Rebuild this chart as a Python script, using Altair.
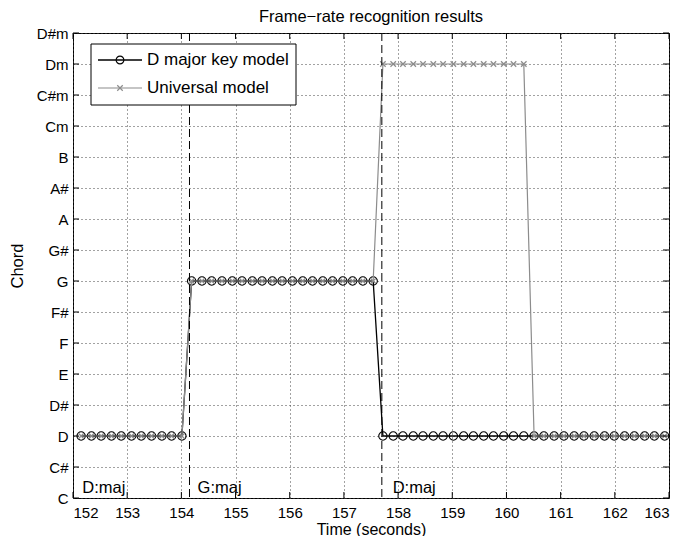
import altair as alt
import pandas as pd

# ---------------- data ----------------
times = [152.15, 152.34, 152.52, 152.71, 152.89, 153.08, 153.26, 153.45, 153.64, 153.82,
         154.01, 154.19, 154.38, 154.56, 154.75, 154.94, 155.12, 155.31, 155.49, 155.68,
         155.86, 156.05, 156.24, 156.42, 156.61, 156.79, 156.98, 157.16, 157.35, 157.54,
         157.72, 157.91, 158.09, 158.28, 158.46, 158.65, 158.83, 159.02, 159.21, 159.39,
         159.58, 159.76, 159.95, 160.13, 160.32, 160.51, 160.69, 160.88, 161.06, 161.25,
         161.43, 161.62, 161.81, 161.99, 162.18, 162.36, 162.55, 162.73, 162.92]

major_chord = [2, 2, 2, 2, 2, 2, 2, 2, 2, 2,
               2, 7, 7, 7, 7, 7, 7, 7, 7, 7,
               7, 7, 7, 7, 7, 7, 7, 7, 7, 7,
               2, 2, 2, 2, 2, 2, 2, 2, 2, 2,
               2, 2, 2, 2, 2, 2, 2, 2, 2, 2,
               2, 2, 2, 2, 2, 2, 2, 2, 2]

univ_chord = [2, 2, 2, 2, 2, 2, 2, 2, 2, 2,
              2, 7, 7, 7, 7, 7, 7, 7, 7, 7,
              7, 7, 7, 7, 7, 7, 7, 7, 7, 7,
              14, 14, 14, 14, 14, 14, 14, 14, 14, 14,
              14, 14, 14, 14, 14, 2, 2, 2, 2, 2,
              2, 2, 2, 2, 2, 2, 2, 2, 2]

chord_labels = ["C", "C#", "D", "D#", "E", "F", "F#", "G", "G#", "A", "A#", "B",
                "Cm", "C#m", "Dm", "D#m"]
x_ticks = [152, 153, 154, 155, 156, 157, 158, 159, 160, 161, 162, 163]
y_ticks = [0, 1, 2, 3, 4, 5, 6, 7, 8, 9, 10, 11, 12, 13, 14, 15]

boundary_times = [154.15, 157.70]
seg_label_times = [152.17, 154.30, 157.90]
seg_labels = ["D:maj", "G:maj", "D:maj"]

legend_names = ["D major key model", "Universal model"]
title_text = "Frame\u2212rate recognition results"

# ---------------- chart ----------------
W, H = 596, 465
FONT = "Liberation Sans"
GRAY = "#8c8c8c"
XPATH = "M-1,-1L1,1M1,-1L-1,1"

xs = alt.Scale(domain=[152, 163], nice=False, zero=False)
ys = alt.Scale(domain=[0, 15], nice=False, zero=False)

label_expr = "[" + ",".join("'%s'" % c for c in chord_labels) + "][datum.value]"

df_major = pd.DataFrame({"t": times, "c": major_chord})
df_univ = pd.DataFrame({"t": times, "c": univ_chord})
df_xt = pd.DataFrame({"t": x_ticks})
df_yt = pd.DataFrame({"c": y_ticks})
df_b = pd.DataFrame({"t": boundary_times})
df_s = pd.DataFrame({"t": seg_label_times, "lab": seg_labels})
one = pd.DataFrame({"a": [0]})

x_axis = alt.Axis(values=x_ticks, tickCount=len(x_ticks), grid=True, gridDash=[1, 3],
                  gridColor="#444444", gridWidth=1, ticks=False, domain=False,
                  labelPadding=7, labelOverlap=False, labelFontSize=15,
                  title="Time (seconds)", titleBaseline="alphabetic", titleY=36,
                  titleFontSize=16, format="d")
y_axis = alt.Axis(values=y_ticks, tickCount=len(y_ticks), grid=True, gridDash=[1, 3],
                  gridColor="#444444", gridWidth=1, ticks=False, domain=False,
                  labelPadding=5, labelOverlap=False, labelFontSize=15,
                  labelExpr=label_expr, title="Chord", titlePadding=11)

X = alt.X("t:Q", scale=xs, axis=x_axis)
Y = alt.Y("c:Q", scale=ys, axis=y_axis)

base = alt.Chart(df_major).mark_line(color="black", strokeWidth=1.3).encode(x=X, y=Y)
major_pts = alt.Chart(df_major).mark_point(
    shape="circle", size=70, color="black", strokeWidth=1.1, filled=False, opacity=1
).encode(x=X, y=Y)

univ_line = alt.Chart(df_univ).mark_line(color=GRAY, strokeWidth=1.2).encode(x=X, y=Y)
univ_pts = alt.Chart(df_univ).mark_point(
    shape=XPATH, size=30, color=GRAY, strokeWidth=1.2, filled=False, opacity=1
).encode(x=X, y=Y)

bounds = alt.Chart(df_b).mark_rule(color="black", strokeDash=[8, 4], strokeWidth=1).encode(x=X)

seg_text = alt.Chart(df_s).mark_text(
    align="left", baseline="alphabetic", font=FONT, fontSize=16.5, color="black"
).encode(x=X, y=alt.value(H - 5), text="lab:N")

# inward ticks on all four sides
tk = 6
xb = alt.Chart(df_xt).mark_rule(color="black").encode(
    x=X, y=alt.value(H), y2=alt.value(H - tk))
xtp = alt.Chart(df_xt).mark_rule(color="black").encode(
    x=X, y=alt.value(0), y2=alt.value(tk))
yl = alt.Chart(df_yt).mark_rule(color="black").encode(
    y=Y, x=alt.value(0), x2=alt.value(tk))
yr = alt.Chart(df_yt).mark_rule(color="black").encode(
    y=Y, x=alt.value(W), x2=alt.value(W - tk))

# title as a text mark above the plot
title_mark = alt.Chart(one).mark_text(
    align="center", baseline="alphabetic", font=FONT, fontSize=16.5, color="black",
    text=title_text
).encode(x=alt.value(W / 2), y=alt.value(-11))

# legend
lx0, lx1, ly0, ly1 = 18, 223, 11, 72
r1, r2 = 27, 55
leg_box = alt.Chart(one).mark_rect(fill="white", stroke="black", strokeWidth=1).encode(
    x=alt.value(lx0), x2=alt.value(lx1), y=alt.value(ly0), y2=alt.value(ly1))
leg_l1 = alt.Chart(one).mark_rule(color="black", strokeWidth=1.3).encode(
    x=alt.value(25), x2=alt.value(69), y=alt.value(r1))
leg_p1 = alt.Chart(one).mark_point(shape="circle", size=60, color="black",
                                   strokeWidth=1.1, filled=False, opacity=1).encode(
    x=alt.value(47), y=alt.value(r1))
leg_l2 = alt.Chart(one).mark_rule(color=GRAY, strokeWidth=1.2).encode(
    x=alt.value(25), x2=alt.value(69), y=alt.value(r2))
leg_p2 = alt.Chart(one).mark_point(shape=XPATH, size=30, color=GRAY,
                                   strokeWidth=1.2, filled=False, opacity=1).encode(
    x=alt.value(47), y=alt.value(r2))
leg_t1 = alt.Chart(one).mark_text(align="left", baseline="middle", font=FONT,
                                  fontSize=17, color="black",
                                  text=legend_names[0]).encode(
    x=alt.value(74), y=alt.value(r1))
leg_t2 = alt.Chart(one).mark_text(align="left", baseline="middle", font=FONT,
                                  fontSize=17, color="black",
                                  text=legend_names[1]).encode(
    x=alt.value(74), y=alt.value(r2))

chart = alt.layer(
    base, major_pts, univ_line, univ_pts, bounds, seg_text,
    xb, xtp, yl, yr, title_mark,
    leg_box, leg_l1, leg_p1, leg_l2, leg_p2, leg_t1, leg_t2,
).properties(
    width=W, height=H,
    background="white",
    autosize=alt.AutoSizeParams(type="none"),
    padding={"left": 65, "top": 25, "right": 23, "bottom": 38},
).configure_view(
    stroke="black", strokeWidth=1
).configure_axis(
    labelFont=FONT, labelFontSize=15, labelColor="black",
    titleFont=FONT, titleFontSize=16.5, titleFontWeight="normal", titleColor="black",
)

chart.save("out.html", embed_options={"renderer": "svg", "actions": False})
